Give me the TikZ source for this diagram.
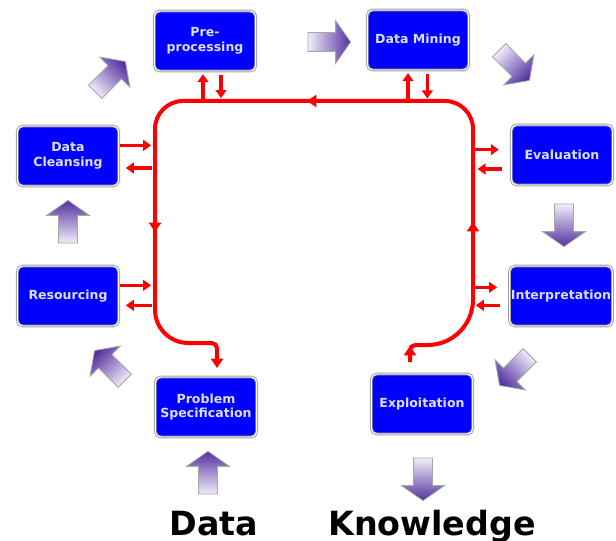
\documentclass[tikz,border=0pt]{standalone}
\usepackage{fontspec}
\setmainfont{DejaVu Sans}
\usetikzlibrary{shapes.arrows,arrows.meta}

\definecolor{stageblue}{RGB}{0,0,255}
\definecolor{stagetext}{RGB}{222,222,255}
\definecolor{flowdark}{RGB}{84,48,158}
\definecolor{flowlight}{RGB}{242,238,252}
\definecolor{loopred}{RGB}{255,0,0}

\tikzset{
  stage/.style={draw=gray!75, double=white, double distance=0.7pt, line width=0.7pt,
    fill=stageblue, rounded corners=4pt, minimum width=76pt, minimum height=45pt,
    text=stagetext, font=\fontsize{9.4}{11}\selectfont\bfseries, align=center, inner sep=1pt},
  flow/.style={single arrow, draw=gray!70, line width=0.6pt, left color=flowlight,
    right color=flowdark, minimum height=32pt, minimum width=31pt,
    single arrow head extend=9pt, single arrow tip angle=110,
    inner xsep=0pt, inner ysep=6.75pt, rotate=#1, shading angle=90+#1},
  loopline/.style={loopred, line width=3pt},
  looptip/.style={loopred, line width=3pt, -{Triangle[width=9pt,length=7pt]}},
  sig/.style={loopred, line width=2.5pt, -{Triangle[width=8pt,length=6pt]}},
  bigword/.style={font=\fontsize{25}{30}\selectfont\bfseries, anchor=base},
}

\begin{document}
\begin{tikzpicture}[x=0.75pt,y=-0.75pt]
    \useasboundingbox (0,0) rectangle (616,541);

    % stages
    \node[stage] (pre) at (205,41) {Pre-\\processing};
    \node[stage] (mine) at (418,40) {Data Mining};
    \node[stage] (eval) at (562,155) {Evaluation};
    \node[stage] (interp) at (561,296) {Interpretation};
    \node[stage] (exploit) at (422,404) {Exploitation};
    \node[stage] (problem) at (206,407) {Problem\\Specification};
    \node[stage] (resource) at (68,296) {Resourcing};
    \node[stage] (cleanse) at (68,156) {Data\\Cleansing};

    % block arrows round the cycle
    \node[flow=0] (a1) at (326,42) {};
    \node[flow=-45] (a2) at (512,63) {};
    \node[flow=-90] (a3) at (564,222) {};
    \node[flow=-135] (a4) at (517,368) {};
    \node[flow=-90] (a5) at (423,476) {};
    \node[flow=90] (a6) at (208,476) {};
    \node[flow=135] (a7) at (112,368) {};
    \node[flow=90] (a8) at (68,225) {};
    \node[flow=45] (a9) at (108,79) {};

    \node[bigword] (data) at (214,535) {Data};
    \node[bigword] (know) at (432,535) {Knowledge};

    % red loop
    \draw[looptip] (410,362) [rounded corners=4pt] -- (410,345) [rounded corners=34pt] -- (473,345)
      [rounded corners=21pt] -- (473,101) -- (155,101) [rounded corners=25pt] -- (155,343)
      [rounded corners=4pt] -- (217,343) -- (217,368);
    \draw[looptip] (410,362) -- (410,346);
    \draw[looptip] (473,240) -- (473,222);
    \draw[looptip] (325,101) -- (307,101);
    \draw[looptip] (155,214) -- (155,232);

    % in and out of the loop
    \draw[sig] ([xshift=-1.5pt,yshift=-21pt]pre.south) -- ([xshift=-1.5pt,yshift=-2pt]pre.south);
    \draw[sig] ([xshift=12pt,yshift=-3pt]pre.south) -- ([xshift=12pt,yshift=-20pt]pre.south);
    \draw[sig] ([xshift=-7.5pt,yshift=-22pt]mine.south) -- ([xshift=-7.5pt,yshift=-2pt]mine.south);
    \draw[sig] ([xshift=7pt,yshift=-3pt]mine.south) -- ([xshift=7pt,yshift=-21pt]mine.south);

    \draw[sig] ([xshift=1pt,yshift=8pt]cleanse.east) -- ([xshift=24pt,yshift=8pt]cleanse.east);
    \draw[sig] ([xshift=25pt,yshift=-9pt]cleanse.east) -- ([xshift=5pt,yshift=-9pt]cleanse.east);
    \draw[sig] ([xshift=1pt,yshift=8pt]resource.east) -- ([xshift=24pt,yshift=8pt]resource.east);
    \draw[sig] ([xshift=25pt,yshift=-7pt]resource.east) -- ([xshift=5pt,yshift=-7pt]resource.east);

    \draw[sig] ([xshift=-28pt,yshift=4pt]eval.west) -- ([xshift=-9pt,yshift=4pt]eval.west);
    \draw[sig] ([xshift=-7pt,yshift=-10.5pt]eval.west) -- ([xshift=-25pt,yshift=-10.5pt]eval.west);
    \draw[sig] ([xshift=-28pt,yshift=6.5pt]interp.west) -- ([xshift=-9pt,yshift=6.5pt]interp.west);
    \draw[sig] ([xshift=-7pt,yshift=-7pt]interp.west) -- ([xshift=-25pt,yshift=-7pt]interp.west);
\end{tikzpicture}
\end{document}
